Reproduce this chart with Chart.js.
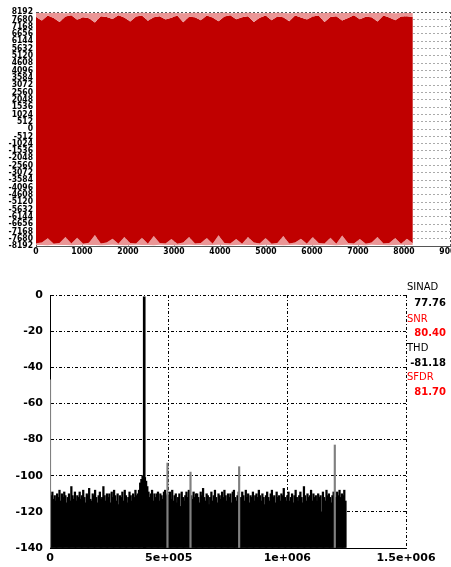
<!DOCTYPE html>
<html>
<head>
<meta charset="utf-8">
<script src="https://cdn.jsdelivr.net/npm/chart.js@4/dist/chart.umd.min.js"></script>
<style>
    html, body { margin: 0; padding: 0; background: #fff; overflow: hidden; width: 451px; height: 567px; }
    #wave { position: absolute; left: 0; top: 0; }
    #spectrum { position: absolute; left: 0; top: 280px; }
    .stat { position: absolute; font-family: "DejaVu Sans", sans-serif; font-size: 10px; line-height: 12px; white-space: nowrap; }
    .lbl { left: 407px; }
    .val { right: 5px; font-weight: bold; }
    .red { color: #f00; }
</style>
</head>
<body>
<canvas id="wave" width="475" height="262"></canvas>
<canvas id="spectrum" width="451" height="287"></canvas>

<div class="stat lbl" style="top:281px">SINAD</div>
<div class="stat val" style="top:297px">77.76</div>
<div class="stat lbl red" style="top:313px">SNR</div>
<div class="stat val red" style="top:327px">80.40</div>
<div class="stat lbl" style="top:342px">THD</div>
<div class="stat val" style="top:357px">-81.18</div>
<div class="stat lbl red" style="top:371px">SFDR</div>
<div class="stat val red" style="top:386px">81.70</div>

<script>
// time domain: envelope of the dense sine, one value every 128 samples (0..8192)
var envStep = 128;
var upperOuter = [8120, 8130, 8110, 8140, 8120, 8100, 8130, 8140, 8120, 8110, 8130, 8120, 8140, 8110, 8130, 8120,
    8100, 8130, 8140, 8120, 8110, 8130, 8120, 8140, 8130, 8110, 8120, 8140, 8120, 8100, 8130, 8120,
    8140, 8110, 8130, 8120, 8140, 8120, 8110, 8130, 8120, 8140, 8130, 8110, 8120, 8140, 8120, 8100,
    8130, 8120, 8140, 8110, 8130, 8120, 8140, 8120, 8110, 8130, 8120, 8140, 8130, 8110, 8120, 8130, 8120];
var upperInner = [7850, 7600, 7950, 7780, 7500, 7880, 7960, 7650, 7820, 7760, 7450, 7900, 7840, 7700, 7960, 7800,
    7520, 7870, 7940, 7580, 7830, 7900, 7660, 7790, 7950, 7480, 7860, 7820, 7620, 7940, 7800, 7540,
    7880, 7960, 7680, 7820, 7900, 7500, 7790, 7950, 7620, 7870, 7820, 7540, 7940, 7800, 7660, 7880,
    7950, 7500, 7840, 7900, 7600, 7780, 7960, 7680, 7860, 7820, 7520, 7940, 7800, 7620, 7880, 7900, 7850];
var lowerInner = [-8000, -7950, -7650, -8040, -7980, -7560, -8010, -7620, -8040, -7970, -7420, -8010, -7940, -7680, -8040, -7560,
    -7980, -8010, -7620, -8040, -7500, -7980, -8010, -7700, -8040, -7940, -7560, -8010, -7980, -7640, -8040, -7440,
    -7980, -8010, -7700, -8040, -7560, -7950, -8010, -7640, -8040, -7980, -7500, -8010, -7940, -7680, -8040, -7560,
    -7980, -8010, -7620, -8040, -7460, -7980, -8010, -7700, -8040, -7950, -7560, -8010, -7980, -7640, -8040, -7680, -8000];
var lowerOuter = [-8130, -8120, -8140, -8110, -8130, -8120, -8140, -8120, -8110, -8130, -8120, -8140, -8130, -8110, -8120, -8140,
    -8120, -8100, -8130, -8120, -8140, -8110, -8130, -8120, -8140, -8120, -8110, -8130, -8120, -8140, -8130, -8110,
    -8120, -8140, -8120, -8100, -8130, -8120, -8140, -8110, -8130, -8120, -8140, -8120, -8110, -8130, -8120, -8140,
    -8130, -8110, -8120, -8140, -8120, -8100, -8130, -8120, -8140, -8110, -8130, -8120, -8140, -8120, -8110, -8130, -8120];

// spectrum: noise floor in dB, one bin every 5 kHz from 0 to 1.245 MHz
var binStep = 5000;
var noiseDb = [
    -110, -111, -109, -113, -111, -114, -110, -112, -108, -114, -110, -112, -109, -111, -115, -112, -110, -114, -106, -111, -113, -109, -114, -111, -112,
    -109, -113, -111, -108, -112, -115, -110, -111, -107, -113, -114, -110, -111, -108, -112, -115, -111, -109, -113, -112, -106, -111, -114, -110, -112,
    -110, -115, -109, -112, -108, -111, -114, -110, -116, -111, -112, -109, -114, -108, -111, -115, -112, -109, -111, -114, -110, -112, -108, -111, -110,
    -108, -104, -102, -100, -100, -101, -103, -106, -109, -112, -110, -108, -114, -110, -112, -110, -109, -114, -110, -111, -113, -109, -108, -111, -110,
    -111, -109, -113, -108, -114, -111, -110, -115, -112, -110, -117, -109, -112, -114, -111, -109, -112, -108, -115, -111, -113, -109, -112, -110, -110,
    -112, -115, -109, -111, -107, -112, -114, -110, -111, -116, -112, -109, -114, -111, -108, -112, -115, -110, -111, -113, -109, -112, -108, -111, -114,
    -110, -112, -110, -115, -109, -108, -112, -114, -111, -109, -115, -112, -109, -111, -114, -108, -112, -110, -115, -111, -112, -109, -114, -111, -110,
    -112, -108, -111, -114, -110, -112, -116, -111, -109, -112, -114, -110, -108, -112, -111, -115, -109, -112, -111, -114, -110, -111, -107, -112, -114,
    -111, -109, -114, -112, -110, -115, -111, -108, -112, -114, -111, -109, -112, -115, -106, -111, -114, -110, -112, -111, -108, -114, -110, -112, -111,
    -114, -110, -112, -111, -120, -109, -112, -114, -108, -111, -110, -112, -115, -111, -109, -113, -112, -109, -111, -108, -112, -110, -111, -108, -114
];
var toneFreq = [397000];
var toneDb = [-1];
var spurFreq = [0, 495000, 592000, 797000, 1200000];
var spurDb = [-47, -93, -98, -95, -83];

var waveXLabels = ['0', '1000', '2000', '3000', '4000', '5000', '6000', '7000', '8000', '9000'];
var freqTickLabels = ['0', '5e+005', '1e+006', '1.5e+006'];

function envPoints(values) {
    return values.map(function (v, i) { return {x: i * envStep, y: v}; });
}

function makeWaveChart() {
    var smallFont = {family: "'DejaVu Sans Condensed', 'Liberation Sans Narrow', sans-serif", size: 8.5, weight: 'bold', lineHeight: 1};
    var pink = 'rgb(234,150,150)';
    new Chart(document.getElementById('wave'), {
        type: 'line',
        data: {
            datasets: [
                {data: envPoints(upperOuter), fill: '+1', backgroundColor: pink},
                {data: envPoints(upperInner), fill: '+1', backgroundColor: '#c00000'},
                {data: envPoints(lowerInner), fill: '+1', backgroundColor: pink},
                {data: envPoints(lowerOuter), fill: false}
            ]
        },
        options: {
            responsive: false,
            animation: false,
            layout: {padding: {left: 0, right: 25, top: 12, bottom: 0}},
            elements: {
                line: {borderWidth: 0, tension: 0},
                point: {radius: 0}
            },
            plugins: {legend: {display: false}, tooltip: {enabled: false}},
            scales: {
                x: {
                    type: 'linear',
                    min: 0,
                    max: 9000,
                    ticks: {
                        stepSize: 1000,
                        autoSkip: false,
                        maxRotation: 0,
                        padding: 2,
                        color: '#000',
                        font: smallFont,
                        callback: function (v, i) { return waveXLabels[i]; }
                    },
                    grid: {
                        drawTicks: false,
                        color: function (ctx) { return ctx.tick && ctx.tick.value === 9000 ? '#555' : '#aaa'; }
                    },
                    border: {color: '#555', dash: [2, 2]},
                    afterFit: function (scale) { scale.height = 16; }
                },
                y: {
                    min: -8192,
                    max: 8192,
                    ticks: {
                        stepSize: 512,
                        autoSkip: false,
                        padding: 3,
                        color: '#000',
                        font: smallFont,
                        callback: function (v) { return String(v); }
                    },
                    grid: {
                        drawTicks: false,
                        color: function (ctx) { return ctx.tick && ctx.tick.value === 8192 ? '#555' : '#aaa'; }
                    },
                    border: {color: '#555', dash: [2, 2]},
                    afterFit: function (scale) { scale.width = 36; }
                }
            }
        }
    });
}

function makeSpectrumChart() {
    var axisFont = {family: "'DejaVu Sans', sans-serif", size: 11, weight: 'bold', lineHeight: 1};
    var noisePoints = noiseDb.map(function (v, i) { return {x: i * binStep, y: v}; });
    var tonePoints = toneFreq.map(function (f, i) { return {x: f, y: toneDb[i]}; });
    var spurPoints = spurFreq.map(function (f, i) { return {x: f, y: spurDb[i]}; });
    new Chart(document.getElementById('spectrum'), {
        type: 'bar',
        data: {
            datasets: [
                {data: tonePoints, backgroundColor: '#000', barThickness: 2},
                {data: spurPoints, backgroundColor: '#808080', barThickness: 1.5},
                {data: noisePoints, backgroundColor: '#000', barThickness: 1.6}
            ]
        },
        options: {
            responsive: false,
            animation: false,
            layout: {padding: {left: 0, right: 45, top: 15, bottom: 0}},
            datasets: {bar: {base: -140, grouped: false, borderWidth: 0}},
            plugins: {legend: {display: false}, tooltip: {enabled: false}},
            scales: {
                x: {
                    type: 'linear',
                    min: 0,
                    max: 1500000,
                    offset: false,
                    ticks: {
                        stepSize: 500000,
                        autoSkip: false,
                        maxRotation: 0,
                        padding: 5,
                        color: '#000',
                        font: axisFont,
                        callback: function (v, i) { return freqTickLabels[i]; }
                    },
                    grid: {drawTicks: false, offset: false, color: '#000'},
                    border: {color: '#000', dash: [3, 2, 1, 2]},
                    afterFit: function (scale) { scale.height = 19; }
                },
                y: {
                    min: -140,
                    max: 0,
                    ticks: {
                        stepSize: 20,
                        autoSkip: false,
                        padding: 7,
                        color: '#000',
                        font: axisFont,
                        callback: function (v) { return String(v); }
                    },
                    grid: {drawTicks: false, color: '#000'},
                    border: {color: '#000', dash: [3, 2, 1, 2]},
                    afterFit: function (scale) { scale.width = 50; }
                }
            }
        }
    });
}

document.addEventListener('DOMContentLoaded', function () {
    makeWaveChart();
    makeSpectrumChart();
});
</script>
</body>
</html>
